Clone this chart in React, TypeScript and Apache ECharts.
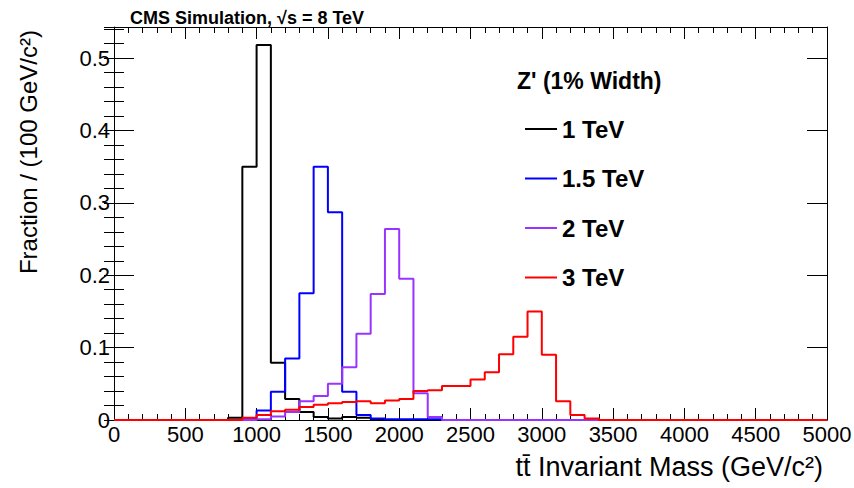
import React, { useEffect, useRef } from "react";
import * as echarts from "echarts";

// Histogram bins: 100 GeV wide, lower edges 0 ... 4900
const BIN_WIDTH = 100;
const X_MAX = 5000;
const binLow: number[] = Array.from({ length: 50 }, (_, i) => i * BIN_WIDTH);

const seriesNames = ["1 TeV", "1.5 TeV", "2 TeV", "3 TeV"];
const seriesColors = ["#000000", "#0000ff", "#9933ff", "#ff0000"];

// Fraction per 100 GeV bin
const z1TeV = [
  0, 0, 0, 0, 0, 0, 0, 0, 0.003, 0.35,
  0.518, 0.079, 0.029, 0.011, 0.004, 0.002, 0.004, 0.003, 0.001, 0,
  0, 0, 0, 0, 0, 0, 0, 0, 0, 0,
  0, 0, 0, 0, 0, 0, 0, 0, 0, 0,
  0, 0, 0, 0, 0, 0, 0, 0, 0, 0,
];
const z15TeV = [
  0, 0, 0, 0, 0, 0, 0, 0, 0, 0.001,
  0.013, 0.039, 0.085, 0.175, 0.35, 0.287, 0.039, 0.007, 0.002, 0.001,
  0.001, 0.001, 0.001, 0, 0, 0, 0, 0, 0, 0,
  0, 0, 0, 0, 0, 0, 0, 0, 0, 0,
  0, 0, 0, 0, 0, 0, 0, 0, 0, 0,
];
const z2TeV = [
  0, 0, 0, 0, 0, 0, 0, 0, 0, 0,
  0.001, 0.005, 0.011, 0.026, 0.033, 0.05, 0.073, 0.119, 0.174, 0.264,
  0.195, 0.037, 0.004, 0, 0, 0, 0, 0, 0, 0,
  0, 0, 0, 0, 0, 0, 0, 0, 0, 0,
  0, 0, 0, 0, 0, 0, 0, 0, 0, 0,
];
const z3TeV = [
  0, 0, 0, 0, 0, 0, 0, 0, 0, 0.003,
  0.007, 0.012, 0.014, 0.018, 0.021, 0.023, 0.025, 0.026, 0.023, 0.027,
  0.029, 0.04, 0.041, 0.047, 0.047, 0.056, 0.066, 0.091, 0.115, 0.15,
  0.09, 0.026, 0.007, 0.002, 0, 0, 0, 0, 0, 0,
  0, 0, 0, 0, 0, 0, 0, 0, 0, 0,
];
const allValues = [z1TeV, z15TeV, z2TeV, z3TeV];

const Y_MAX = 0.543;
const FONT = "'Liberation Sans', Arial, Helvetica, sans-serif";

function histData(vals: number[]) {
  const pts: [number, number][] = binLow.map((x, i) => [x, vals[i]]);
  pts.push([X_MAX, vals[vals.length - 1]]);
  return pts;
}

export default function App() {
  const ref = useRef<HTMLDivElement>(null);

  useEffect(() => {
    if (!ref.current) return;
    const chart = echarts.init(ref.current, undefined, { renderer: "svg" });

    const tickLine = { color: "#000", width: 1 };
    const xBase = {
      type: "value" as const,
      min: 0,
      max: X_MAX,
      interval: 500,
      splitLine: { show: false },
      axisLine: { show: true, onZero: false, lineStyle: tickLine },
      axisTick: { show: true, inside: true, length: 12, lineStyle: tickLine },
      minorTick: { show: true, splitNumber: 5, length: 6, lineStyle: tickLine },
    };
    const yMajor = {
      type: "value" as const,
      min: 0,
      max: Y_MAX,
      interval: 0.1,
      splitLine: { show: false },
      axisLine: { show: true, onZero: false, lineStyle: tickLine },
      axisTick: { show: true, inside: true, length: 20, lineStyle: tickLine },
    };
    const yMinor = {
      type: "value" as const,
      min: 0,
      max: Y_MAX,
      interval: 0.02,
      splitLine: { show: false },
      axisLine: { show: false },
      axisLabel: { show: false },
      axisTick: { show: true, inside: true, length: 10, lineStyle: tickLine },
    };

    chart.setOption({
      animation: false,
      backgroundColor: "#ffffff",
      grid: {
        left: 114,
        right: 27,
        top: 27,
        bottom: 68,
        containLabel: false,
        outerBoundsMode: "none",
      },
      xAxis: [
        {
          ...xBase,
          position: "bottom",
          axisLabel: {
            show: true,
            margin: 3,
            fontSize: 22,
            color: "#000",
            fontFamily: FONT,
            formatter: (v: number) => String(v),
          },
        },
        { ...xBase, position: "top", axisLabel: { show: false } },
      ],
      yAxis: [
        {
          ...yMajor,
          position: "left",
          axisLabel: {
            show: true,
            margin: 4,
            fontSize: 22,
            color: "#000",
            fontFamily: FONT,
            showMaxLabel: false,
            formatter: (v: number) => String(Math.round(v * 10) / 10),
          },
        },
        { ...yMinor, position: "left" },
        { ...yMajor, position: "right", axisLabel: { show: false } },
        { ...yMinor, position: "right" },
      ],
      legend: {
        orient: "vertical",
        left: 520,
        top: 112,
        itemWidth: 32,
        itemHeight: 2,
        itemGap: 25.5,
        icon: "rect",
        data: seriesNames,
        textStyle: {
          fontSize: 24,
          fontWeight: "bold",
          color: "#000",
          fontFamily: FONT,
        },
        selectedMode: false,
      },
      graphic: [
        {
          type: "text",
          x: 130,
          y: 17.5,
          style: {
            text: "CMS Simulation, √s = 8 TeV",
            font: `bold 18px ${FONT}`,
            fill: "#000",
            textAlign: "left",
            textVerticalAlign: "middle",
          },
        },
        {
          type: "text",
          x: 517,
          y: 81,
          style: {
            text: "Z' (1% Width)",
            font: `bold 23px ${FONT}`,
            fill: "#000",
            textAlign: "left",
            textVerticalAlign: "middle",
          },
        },
        {
          type: "text",
          x: 28,
          y: 30,
          rotation: Math.PI / 2,
          style: {
            text: "Fraction / (100 GeV/c²)",
            font: `24px ${FONT}`,
            fill: "#000",
            textAlign: "right",
            textVerticalAlign: "middle",
          },
        },
        {
          type: "text",
          x: 823,
          y: 467,
          style: {
            text: "tt\u0304 Invariant Mass (GeV/c²)",
            font: `27px ${FONT}`,
            fill: "#000",
            textAlign: "right",
            textVerticalAlign: "middle",
          },
        },
      ],
      series: allValues.map((vals, i) => ({
        name: seriesNames[i],
        type: "line",
        step: "end",
        xAxisIndex: 0,
        yAxisIndex: 0,
        data: histData(vals),
        symbol: "none",
        showSymbol: false,
        color: seriesColors[i],
        lineStyle: { color: seriesColors[i], width: 2 },
        itemStyle: { color: seriesColors[i] },
        z: 3 + i,
        clip: false,
      })),
    });

    return () => chart.dispose();
  }, []);

  return (
    <div
      ref={ref}
      style={{
        position: "absolute",
        left: 0,
        top: 0,
        width: 854,
        height: 488,
        background: "#fff",
      }}
    />
  );
}
